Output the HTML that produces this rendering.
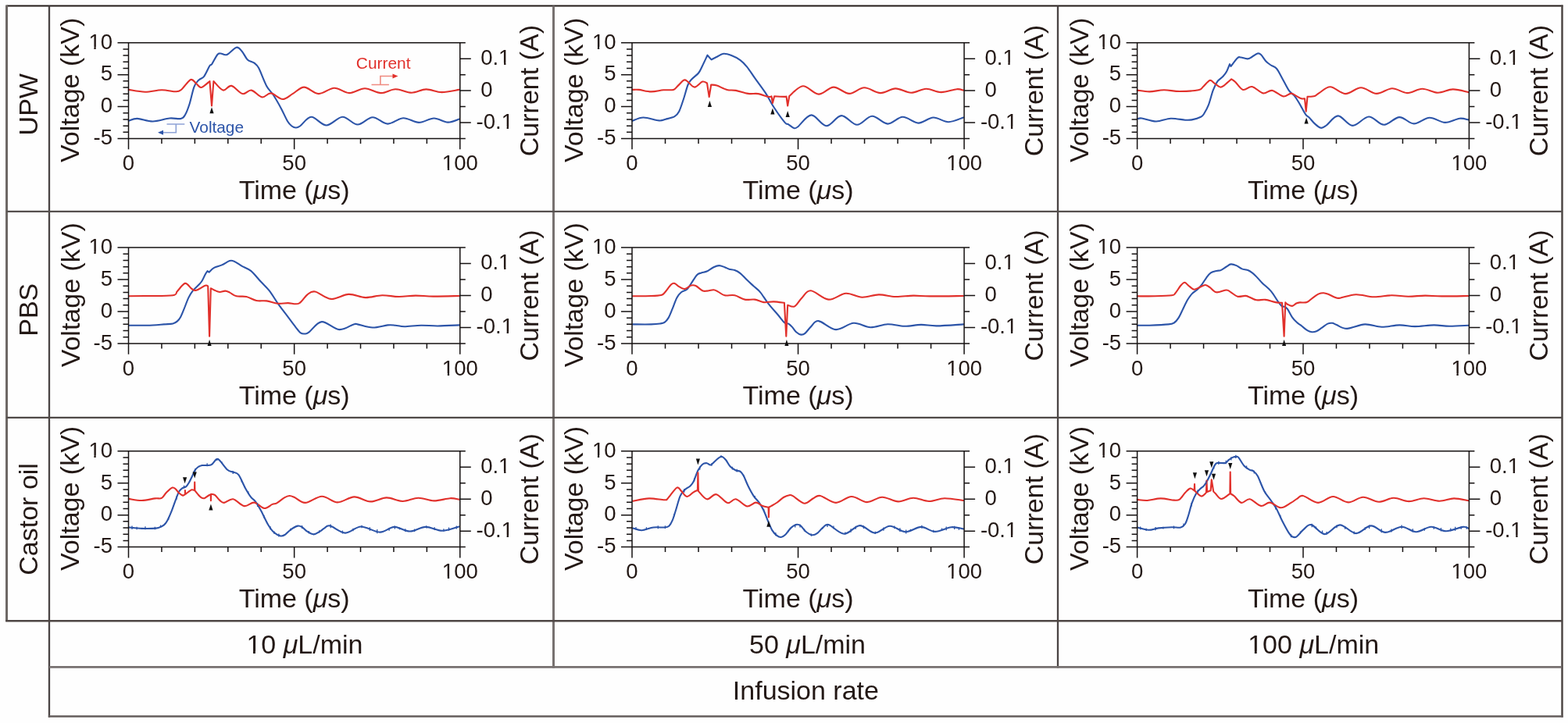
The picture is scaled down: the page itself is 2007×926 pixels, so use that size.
<!DOCTYPE html>
<html><head><meta charset="utf-8"><title>Voltage and current waveforms</title>
<style>html,body{margin:0;padding:0;background:#fefefe;}svg{display:block;}</style>
</head><body>
<svg width="2007" height="926" viewBox="0 0 2007 926" font-family="'Liberation Sans', Arial, Helvetica, sans-serif">
<path d="M8.5 7.5H2000.5" fill="none" stroke="#231b19" stroke-width="2.2"/>
<path d="M8.55 6.5V796" fill="none" stroke="#6c6663" stroke-width="3"/>
<path d="M1999.5 6.5V918.7" fill="none" stroke="#4e4745" stroke-width="2.5"/>
<path d="M63 7.5V918.7" fill="none" stroke="#4a4444" stroke-width="2.3"/>
<path d="M708.5 7.5V855.5" fill="none" stroke="#777170" stroke-width="3"/>
<path d="M1354 7.5V855.5" fill="none" stroke="#4a4444" stroke-width="2.3"/>
<path d="M8.5 270.8H1999" fill="none" stroke="#55504e" stroke-width="2.2"/>
<path d="M8.5 534.8H1999" fill="none" stroke="#4e4846" stroke-width="2.2"/>
<path d="M7.2 795.2H1999" fill="none" stroke="#4e4644" stroke-width="2.4"/>
<path d="M63 854.4H1999" fill="none" stroke="#777170" stroke-width="2.6"/>
<path d="M61.8 917.5H2000.7" fill="none" stroke="#635c5b" stroke-width="2.6"/>
<text x="48" y="133.75" font-size="34" text-anchor="middle" fill="#231815" transform="rotate(-90 48 133.75)">UPW</text>
<text x="48" y="396.7" font-size="34" text-anchor="middle" fill="#231815" transform="rotate(-90 48 396.7)">PBS</text>
<text x="48.5" y="664.9" font-size="34" text-anchor="middle" fill="#231815" transform="rotate(-90 48.5 664.9)">Castor oil</text>
<text x="389.9" y="836.7" font-size="34" text-anchor="middle" fill="#231815">10 <tspan font-style="italic">&#956;</tspan>L/min</text>
<text x="1033.5" y="836.8" font-size="34" text-anchor="middle" fill="#231815">50 <tspan font-style="italic">&#956;</tspan>L/min</text>
<text x="1681.2" y="836.9" font-size="34" text-anchor="middle" fill="#231815">100 <tspan font-style="italic">&#956;</tspan>L/min</text>
<text x="1031.4" y="895.5" font-size="34" text-anchor="middle" fill="#231815">Infusion rate</text>
<path d="M164.7 154.8C166.53 154.32 170.55 151.78 175.7 151.9C180.85 152.02 188.72 155.57 195.6 155.5C202.48 155.43 211.05 152.08 217 151.5C222.95 150.92 227.97 152.75 231.3 152C234.63 151.25 235.1 150.22 237 147C238.9 143.78 240.8 138.65 242.7 132.7C244.6 126.75 246.5 116.28 248.4 111.3C250.3 106.32 251.97 105.05 254.1 102.8C256.23 100.55 258.82 100.9 261.2 97.8C263.58 94.7 266.73 86.82 268.4 84.2C270.07 81.58 269.55 84.47 271.2 82.1C272.85 79.73 276.4 72.27 278.3 70C280.2 67.73 280.57 68.5 282.6 68.5C284.63 68.5 287.17 71.3 290.5 70C293.83 68.7 299.4 61.42 302.6 60.7C305.8 59.98 307.33 63.08 309.7 65.7C312.07 68.32 314.18 73.9 316.8 76.4C319.42 78.9 323.02 78.92 325.4 80.7C327.78 82.48 328.48 82.23 331.1 87.1C333.72 91.97 338.02 104.2 341.1 109.9C344.18 115.6 346.52 116.55 349.6 121.3C352.68 126.05 356.5 132.7 359.6 138.4C362.7 144.1 365.88 151.65 368.2 155.5C370.52 159.35 371.78 160.17 373.5 161.5C375.22 162.83 376.75 163.5 378.5 163.5C380.25 163.5 380.67 163.78 384 161.5C387.33 159.22 392.87 149.97 398.5 149.8C404.13 149.63 411.15 160.5 417.8 160.5C424.45 160.5 431.75 149.97 438.4 149.8C445.05 149.63 451.28 159.43 457.7 159.5C464.12 159.57 470.48 150.35 476.9 150.2C483.32 150.05 489.67 158.43 496.2 158.6C502.73 158.77 509.45 151.48 516.1 151.2C522.75 150.92 529.55 156.85 536.1 156.9C542.65 156.95 549.22 151.55 555.4 151.5C561.58 151.45 567.75 156.45 573.2 156.6C578.65 156.75 585.62 153.1 588.1 152.4" fill="none" stroke="#2c54a8" stroke-width="2.1" stroke-linejoin="round" stroke-linecap="round"/>
<path d="M164.7 114.9C168.2 115.37 178.65 117.63 185.7 117.7C192.75 117.77 200.35 115.37 207 115.3C213.65 115.23 221.32 117.48 225.6 117.3C229.88 117.12 229.62 116.75 232.7 114.2C235.78 111.65 241.02 103.2 244.1 102C247.18 100.8 248.93 105.33 251.2 107C253.47 108.67 254.83 112.5 257.7 112C260.57 111.5 266.62 105.33 268.4 104L271 135.4L273.4 104C275.42 105.93 281.7 114.62 285.5 115.6C289.3 116.58 292.05 109.15 296.2 109.9C300.35 110.65 306.13 119.15 310.4 120.1C314.67 121.05 317.63 114.88 321.8 115.6C325.97 116.32 331.23 123.77 335.4 124.4C339.57 125.03 342.42 118.97 346.8 119.4C351.18 119.83 357 126.92 361.7 127C366.4 127.08 370.4 122.47 375 119.9C379.6 117.33 383.83 111.57 389.3 111.6C394.77 111.63 401.38 119.92 407.8 120.1C414.22 120.28 421.27 112.87 427.8 112.7C434.33 112.53 440.47 119.02 447 119.1C453.53 119.18 460.23 113.2 467 113.2C473.77 113.2 481.07 118.93 487.6 119.1C494.13 119.27 499.67 114.27 506.2 114.2C512.73 114.13 520.27 118.67 526.8 118.7C533.33 118.73 538.98 114.5 545.4 114.4C551.82 114.3 558.3 118.02 565.3 118.1C572.3 118.18 583.72 115.43 587.4 114.9" fill="none" stroke="#e1302b" stroke-width="2.1" stroke-linejoin="round" stroke-linecap="round"/>
<path d="M271 137.2L268.4 145.2L273.6 145.2Z" fill="#111"/>
<path d="M150.5 54.7H595.8M150.5 177.5H595.8M164.5 54.7V191.3M588.8 54.7V191.3M157.5 169.31H164.5M157.5 161.13H164.5M157.5 152.94H164.5M157.5 144.75H164.5M150.5 136.57H164.5M157.5 128.38H164.5M157.5 120.19H164.5M157.5 112.01H164.5M157.5 103.82H164.5M150.5 95.63H164.5M157.5 87.45H164.5M157.5 79.26H164.5M157.5 71.07H164.5M157.5 62.89H164.5M588.8 157.03H602.8M588.8 116.1H602.8M588.8 75.17H602.8M588.8 136.57H595.8M588.8 95.63H595.8M206.93 177.5V184M249.36 177.5V184M291.79 177.5V184M334.22 177.5V184M376.65 177.5V191.3M419.08 177.5V184M461.51 177.5V184M503.94 177.5V184M546.37 177.5V184" fill="none" stroke="#161212" stroke-width="1.5"/>
<text x="144" y="62.5" font-size="27.5" text-anchor="end" fill="#231815">10</text>
<text x="144" y="103.43" font-size="27.5" text-anchor="end" fill="#231815">5</text>
<text x="144" y="144.37" font-size="27.5" text-anchor="end" fill="#231815">0</text>
<text x="144" y="185.3" font-size="27.5" text-anchor="end" fill="#231815">-5</text>
<text x="164.5" y="218.1" font-size="27.5" text-anchor="middle" fill="#231815">0</text>
<text x="376.65" y="218.1" font-size="27.5" text-anchor="middle" fill="#231815">50</text>
<text x="588.8" y="218.1" font-size="27.5" text-anchor="middle" fill="#231815">100</text>
<text x="615.2" y="82.97" font-size="27.5" text-anchor="start" fill="#231815">0.1</text>
<text x="615.2" y="123.9" font-size="27.5" text-anchor="start" fill="#231815">0</text>
<text x="609.6" y="164.83" font-size="27.5" text-anchor="start" fill="#231815">-0.1</text>
<text x="101.5" y="115.35" font-size="34" text-anchor="middle" fill="#231815" transform="rotate(-90 101.5 115.35)">Voltage (kV)</text>
<text x="689.3" y="116.1" font-size="34" text-anchor="middle" fill="#231815" transform="rotate(-90 689.3 116.1)">Current (A)</text>
<text x="376.65" y="255.1" font-size="34" text-anchor="middle" fill="#231815">Time (<tspan font-style="italic">&#956;</tspan>s)</text>
<path d="M213.5 159H236.3M225.3 159V169.8H205" fill="none" stroke="#8ea3d6" stroke-width="1.6"/><path d="M202 169.8L209 166.8L209 172.8Z" fill="#2c54a8"/><text x="242.6" y="169.8" font-size="20.8" text-anchor="start" fill="#2c54a8">Voltage</text><path d="M475.5 108.5H497.9M486.9 108.5V97.5H505" fill="none" stroke="#ef8a80" stroke-width="1.6"/><path d="M509.5 97.5L502.5 94.5L502.5 100.5Z" fill="#e1302b"/><text x="455.8" y="87.8" font-size="20.9" text-anchor="start" fill="#e1302b">Current</text>
<path d="M809.3 154.8C811.67 154.08 817.8 150.57 823.5 150.5C829.2 150.43 838.75 154.03 843.5 154.4C848.25 154.77 848.67 153.58 852 152.7C855.33 151.82 860.63 150.77 863.5 149.1C866.37 147.43 867.3 146.38 869.2 142.7C871.1 139.02 873 132.7 874.9 127C876.8 121.3 878.82 112.78 880.6 108.5C882.38 104.22 883.35 103.8 885.6 101.3C887.85 98.8 891.85 96.35 894.1 93.5C896.35 90.65 897.2 88 899.1 84.2C901 80.4 904.43 72.95 905.5 70.7L910.5 76.4C911.68 75.8 914.98 74.07 917.6 72.8C920.22 71.53 923.1 69.08 926.2 68.8C929.3 68.52 932.63 69.72 936.2 71.1C939.77 72.48 944.28 74.68 947.6 77.1C950.92 79.52 953.02 81.8 956.1 85.6C959.18 89.4 962.05 94.18 966.1 99.9C970.15 105.62 976.37 113.72 980.4 119.9C984.43 126.08 986.27 130.83 990.3 137C994.33 143.17 1001.5 153.22 1004.6 156.9C1007.7 160.58 1007 157.93 1008.9 159.1C1010.8 160.27 1013.98 163.33 1016 163.9C1018.02 164.47 1017.25 165.25 1021 162.5C1024.75 159.75 1032.37 147.62 1038.5 147.4C1044.63 147.18 1051.38 161.08 1057.8 161.2C1064.22 161.32 1070.47 148.33 1077 148.1C1083.53 147.87 1090.47 159.68 1097 159.8C1103.53 159.92 1109.67 149 1116.2 148.8C1122.73 148.6 1129.67 158.43 1136.2 158.6C1142.73 158.77 1148.87 149.97 1155.4 149.8C1161.93 149.63 1168.87 157.48 1175.4 157.6C1181.93 157.72 1188.18 150.73 1194.6 150.5C1201.02 150.27 1207.48 156.2 1213.9 156.2C1220.32 156.2 1229.9 151.45 1233.1 150.5" fill="none" stroke="#2c54a8" stroke-width="2.1" stroke-linejoin="round" stroke-linecap="round"/>
<path d="M809.3 114.9C810.72 114.9 813.77 114.48 817.8 114.9C821.83 115.32 828.27 117.33 833.5 117.4C838.73 117.47 844.45 115.72 849.2 115.3C853.95 114.88 858.92 115.8 862 114.9C865.08 114 865.43 111.97 867.7 109.9C869.97 107.83 873.45 103.33 875.6 102.5C877.75 101.67 878.35 103.38 880.6 104.9C882.85 106.42 886.02 111.65 889.1 111.6C892.18 111.55 896.45 105.45 899.1 104.6C901.75 103.75 904.02 106.18 905 106.5L907.7 124.1L910.2 108.5C911.43 108.68 914.22 108.53 917.6 109.6C920.98 110.67 926.45 113.85 930.5 114.9C934.55 115.95 937.38 115.07 941.9 115.9C946.42 116.73 952.85 119.2 957.6 119.9C962.35 120.6 966.13 119.43 970.4 120.1C974.67 120.77 980.35 123.35 983.2 123.9C986.05 124.45 986.78 123.48 987.5 123.4L988.9 132L991.1 123.4C993.35 123.48 1002.03 123.87 1004.6 123.9C1007.17 123.93 1006.18 123.65 1006.5 123.6L1008.2 135.5L1010.3 123C1013.22 120.88 1021.55 110.7 1027.8 110.3C1034.05 109.9 1041.27 120.38 1047.8 120.6C1054.33 120.82 1060.47 111.72 1067 111.6C1073.53 111.48 1080.47 119.78 1087 119.9C1093.53 120.02 1099.55 112.43 1106.2 112.3C1112.85 112.17 1120.23 118.92 1126.9 119.1C1133.57 119.28 1139.67 113.47 1146.2 113.4C1152.73 113.33 1159.57 118.65 1166.1 118.7C1172.63 118.75 1178.98 113.8 1185.4 113.7C1191.82 113.6 1198.07 118.02 1204.6 118.1C1211.13 118.18 1219.85 114.62 1224.6 114.2C1229.35 113.78 1231.68 115.37 1233.1 115.6" fill="none" stroke="#e1302b" stroke-width="2.1" stroke-linejoin="round" stroke-linecap="round"/>
<path d="M908.4 129.1L905.8 137.1L911 137.1Z" fill="#111"/>
<path d="M988.9 138.4L986.3 146.4L991.5 146.4Z" fill="#111"/>
<path d="M1008.2 142L1005.6 150L1010.8 150Z" fill="#111"/>
<path d="M795 54.7H1241.1M795 177.5H1241.1M809 54.7V191.3M1234.1 54.7V191.3M802 169.31H809M802 161.13H809M802 152.94H809M802 144.75H809M795 136.57H809M802 128.38H809M802 120.19H809M802 112.01H809M802 103.82H809M795 95.63H809M802 87.45H809M802 79.26H809M802 71.07H809M802 62.89H809M1234.1 157.03H1248.1M1234.1 116.1H1248.1M1234.1 75.17H1248.1M1234.1 136.57H1241.1M1234.1 95.63H1241.1M851.51 177.5V184M894.02 177.5V184M936.53 177.5V184M979.04 177.5V184M1021.55 177.5V191.3M1064.06 177.5V184M1106.57 177.5V184M1149.08 177.5V184M1191.59 177.5V184" fill="none" stroke="#161212" stroke-width="1.5"/>
<text x="788.5" y="62.5" font-size="27.5" text-anchor="end" fill="#231815">10</text>
<text x="788.5" y="103.43" font-size="27.5" text-anchor="end" fill="#231815">5</text>
<text x="788.5" y="144.37" font-size="27.5" text-anchor="end" fill="#231815">0</text>
<text x="788.5" y="185.3" font-size="27.5" text-anchor="end" fill="#231815">-5</text>
<text x="809" y="218.1" font-size="27.5" text-anchor="middle" fill="#231815">0</text>
<text x="1021.55" y="218.1" font-size="27.5" text-anchor="middle" fill="#231815">50</text>
<text x="1234.1" y="218.1" font-size="27.5" text-anchor="middle" fill="#231815">100</text>
<text x="1260.5" y="82.97" font-size="27.5" text-anchor="start" fill="#231815">0.1</text>
<text x="1260.5" y="123.9" font-size="27.5" text-anchor="start" fill="#231815">0</text>
<text x="1254.9" y="164.83" font-size="27.5" text-anchor="start" fill="#231815">-0.1</text>
<text x="746" y="115.35" font-size="34" text-anchor="middle" fill="#231815" transform="rotate(-90 746 115.35)">Voltage (kV)</text>
<text x="1334.6" y="116.1" font-size="34" text-anchor="middle" fill="#231815" transform="rotate(-90 1334.6 116.1)">Current (A)</text>
<text x="1021.55" y="255.1" font-size="34" text-anchor="middle" fill="#231815">Time (<tspan font-style="italic">&#956;</tspan>s)</text>
<path d="M1455.7 152.4C1456.65 152.25 1457.37 150.98 1461.4 151.5C1465.43 152.02 1473.72 155.47 1479.9 155.5C1486.08 155.53 1492.32 152 1498.5 151.7C1504.68 151.4 1512.48 153.42 1517 153.7C1521.52 153.98 1522.27 154.05 1525.6 153.4C1528.93 152.75 1534.4 151.12 1537 149.8C1539.6 148.48 1539.53 148.12 1541.2 145.5C1542.87 142.88 1545.08 139.08 1547 134.1C1548.92 129.12 1550.8 120.58 1552.7 115.6C1554.6 110.62 1556.27 107.17 1558.4 104.2C1560.53 101.23 1563.6 99.82 1565.5 97.8C1567.4 95.78 1568.38 94.72 1569.8 92.1C1571.22 89.48 1573.3 83.77 1574 82.1L1575.5 84.9C1576.92 83.12 1581.87 76.1 1584 74.2C1586.13 72.3 1586.17 73.3 1588.3 73.5C1590.43 73.7 1594.42 75.52 1596.8 75.4C1599.18 75.28 1600.45 73.95 1602.6 72.8C1604.75 71.65 1607.8 68.97 1609.7 68.5C1611.6 68.03 1612.22 68.33 1614 70C1615.78 71.67 1618.27 76.25 1620.4 78.5C1622.53 80.75 1624.55 81.95 1626.8 83.5C1629.05 85.05 1631.53 85.07 1633.9 87.8C1636.27 90.53 1638.38 95.27 1641 99.9C1643.62 104.53 1646.98 111.8 1649.6 115.6C1652.22 119.4 1654.63 120.22 1656.7 122.7C1658.77 125.18 1660.37 127.87 1662 130.5C1663.63 133.13 1664.93 135.77 1666.5 138.5C1668.07 141.23 1669.87 144.9 1671.4 146.9C1672.93 148.9 1673.8 148.58 1675.7 150.5C1677.6 152.42 1680.3 156.18 1682.8 158.4C1685.3 160.62 1688.2 163.45 1690.7 163.8C1693.2 164.15 1694.12 163.07 1697.8 160.5C1701.48 157.93 1707.22 148.33 1712.8 148.4C1718.38 148.47 1724.77 160.72 1731.3 160.9C1737.83 161.08 1745.35 149.68 1752 149.5C1758.65 149.32 1764.67 159.7 1771.2 159.8C1777.73 159.9 1784.78 150.33 1791.2 150.1C1797.62 149.87 1803.28 158.28 1809.7 158.4C1816.12 158.52 1823.05 151.05 1829.7 150.8C1836.35 150.55 1843.18 156.75 1849.6 156.9C1856.02 157.05 1863.2 152.28 1868.2 151.7C1873.2 151.12 1877.7 153.12 1879.6 153.4" fill="none" stroke="#2c54a8" stroke-width="2.1" stroke-linejoin="round" stroke-linecap="round"/>
<path d="M1455.7 115.6C1458.32 115.9 1465.7 117.45 1471.4 117.4C1477.1 117.35 1483.48 115.37 1489.9 115.3C1496.32 115.23 1502.53 117 1509.9 117C1517.27 117 1529.12 116.25 1534.1 115.3C1539.08 114.35 1537.42 113.35 1539.8 111.3C1542.18 109.25 1546.02 103.83 1548.4 103C1550.78 102.17 1551.73 104.87 1554.1 106.3C1556.47 107.73 1559.75 111.72 1562.6 111.6C1565.45 111.48 1568.93 107.32 1571.2 105.6C1573.47 103.88 1575.37 102.02 1576.2 101.3C1577.03 101.9 1578.72 102.63 1581.2 104.9C1583.68 107.17 1587.53 113.88 1591.1 114.9C1594.67 115.92 1598.32 110.25 1602.6 111C1606.88 111.75 1612.53 118.58 1616.8 119.4C1621.07 120.22 1623.92 115.23 1628.2 115.9C1632.48 116.57 1638.45 122.78 1642.5 123.4C1646.55 124.02 1649.58 119.6 1652.5 119.6C1655.42 119.6 1657.8 122.28 1660 123.4C1662.2 124.52 1664.03 125.82 1665.7 126.3C1667.37 126.78 1669.28 126.3 1670 126.3L1671.7 142.7L1673.5 123.9C1675.05 123.75 1680.3 123.8 1682.8 123C1685.3 122.2 1685.17 121.05 1688.5 119.1C1691.83 117.15 1697.22 111.13 1702.8 111.3C1708.38 111.47 1715.47 119.93 1722 120.1C1728.53 120.27 1735.33 112.33 1742 112.3C1748.67 112.27 1755.35 119.75 1762 119.9C1768.65 120.05 1775.38 113.33 1781.9 113.2C1788.42 113.07 1794.68 119.02 1801.1 119.1C1807.52 119.18 1813.85 113.77 1820.4 113.7C1826.95 113.63 1833.87 118.58 1840.4 118.7C1846.93 118.82 1853.07 114.5 1859.6 114.4C1866.13 114.3 1876.27 117.48 1879.6 118.1" fill="none" stroke="#e1302b" stroke-width="2.1" stroke-linejoin="round" stroke-linecap="round"/>
<path d="M1672.1 150.5L1669.5 158.5L1674.7 158.5Z" fill="#111"/>
<path d="M1441.6 54.7H1887.4M1441.6 177.5H1887.4M1455.6 54.7V191.3M1880.4 54.7V191.3M1448.6 169.31H1455.6M1448.6 161.13H1455.6M1448.6 152.94H1455.6M1448.6 144.75H1455.6M1441.6 136.57H1455.6M1448.6 128.38H1455.6M1448.6 120.19H1455.6M1448.6 112.01H1455.6M1448.6 103.82H1455.6M1441.6 95.63H1455.6M1448.6 87.45H1455.6M1448.6 79.26H1455.6M1448.6 71.07H1455.6M1448.6 62.89H1455.6M1880.4 157.03H1894.4M1880.4 116.1H1894.4M1880.4 75.17H1894.4M1880.4 136.57H1887.4M1880.4 95.63H1887.4M1498.08 177.5V184M1540.56 177.5V184M1583.04 177.5V184M1625.52 177.5V184M1668 177.5V191.3M1710.48 177.5V184M1752.96 177.5V184M1795.44 177.5V184M1837.92 177.5V184" fill="none" stroke="#161212" stroke-width="1.5"/>
<text x="1435.1" y="62.5" font-size="27.5" text-anchor="end" fill="#231815">10</text>
<text x="1435.1" y="103.43" font-size="27.5" text-anchor="end" fill="#231815">5</text>
<text x="1435.1" y="144.37" font-size="27.5" text-anchor="end" fill="#231815">0</text>
<text x="1435.1" y="185.3" font-size="27.5" text-anchor="end" fill="#231815">-5</text>
<text x="1455.6" y="218.1" font-size="27.5" text-anchor="middle" fill="#231815">0</text>
<text x="1668" y="218.1" font-size="27.5" text-anchor="middle" fill="#231815">50</text>
<text x="1880.4" y="218.1" font-size="27.5" text-anchor="middle" fill="#231815">100</text>
<text x="1906.8" y="82.97" font-size="27.5" text-anchor="start" fill="#231815">0.1</text>
<text x="1906.8" y="123.9" font-size="27.5" text-anchor="start" fill="#231815">0</text>
<text x="1901.2" y="164.83" font-size="27.5" text-anchor="start" fill="#231815">-0.1</text>
<text x="1392.6" y="115.35" font-size="34" text-anchor="middle" fill="#231815" transform="rotate(-90 1392.6 115.35)">Voltage (kV)</text>
<text x="1980.9" y="116.1" font-size="34" text-anchor="middle" fill="#231815" transform="rotate(-90 1980.9 116.1)">Current (A)</text>
<text x="1668" y="255.1" font-size="34" text-anchor="middle" fill="#231815">Time (<tspan font-style="italic">&#956;</tspan>s)</text>
<path d="M165 416.8C168.92 416.78 181.02 416.93 188.5 416.7C195.98 416.47 204.43 415.77 209.9 415.4C215.37 415.03 218.45 415.17 221.3 414.5C224.15 413.83 225.33 412.87 227 411.4C228.67 409.93 229.87 408.32 231.3 405.7C232.73 403.08 233.93 399.75 235.6 395.7C237.27 391.65 239.4 385.32 241.3 381.4C243.2 377.48 244.87 374.93 247 372.2C249.13 369.47 252.2 367.03 254.1 365C256 362.97 256.97 362.25 258.4 360C259.83 357.75 261.52 353.63 262.7 351.5C263.88 349.37 265.03 347.92 265.5 347.2L267.6 348.6C268.68 347.65 271.37 344.43 274.1 342.9C276.83 341.37 280.68 340.87 284 339.4C287.32 337.93 291.38 334.88 294 334.1C296.62 333.32 297.08 333.58 299.7 334.7C302.32 335.82 306.13 338.77 309.7 340.8C313.27 342.83 317.07 343.57 321.1 346.9C325.13 350.23 329.95 356.55 333.9 360.8C337.85 365.05 341.18 367.77 344.8 372.4C348.42 377.03 351.63 383.02 355.6 388.6C359.57 394.18 364.82 400.87 368.6 405.9C372.38 410.93 375.6 415.38 378.3 418.8C381 422.22 382.82 424.95 384.8 426.4C386.78 427.85 388.4 427.68 390.2 427.5C392 427.32 392 427.87 395.6 425.3C399.2 422.73 405.37 412.63 411.8 412.1C418.23 411.57 427.38 421.55 434.2 422.1C441.02 422.65 448.78 416.52 452.7 415.4C456.62 414.28 453.67 414.72 457.7 415.4C461.73 416.08 470.48 419.33 476.9 419.5C483.32 419.67 491.32 416.87 496.2 416.4C501.08 415.93 502.63 416.4 506.2 416.7C509.77 417 512.13 418.2 517.6 418.2C523.07 418.2 531.88 416.82 539 416.7C546.12 416.58 552.12 417.55 560.3 417.5C568.48 417.45 583.47 416.58 588.1 416.4" fill="none" stroke="#2c54a8" stroke-width="2.1" stroke-linejoin="round" stroke-linecap="round"/>
<path d="M165 379.3C168.92 379.25 179.12 379.18 188.5 379C197.88 378.82 214.88 379.22 221.3 378.2C227.72 377.18 224.38 375.45 227 372.9C229.62 370.35 233.92 363.38 237 362.9C240.08 362.42 243.13 368.53 245.5 370C247.87 371.47 248.33 372.4 251.2 371.7C254.07 371 260.2 366.67 262.7 365.8C265.2 364.93 265.62 366.38 266.2 366.5L268.1 430.6L269.8 369.3C270.52 369.67 272.2 370.72 274.1 371.5C276 372.28 278.83 373.82 281.2 374C283.57 374.18 286.17 372.5 288.3 372.6C290.43 372.7 291.62 373.48 294 374.6C296.38 375.72 299.03 378.4 302.6 379.3C306.17 380.2 311.13 379.05 315.4 380C319.67 380.95 323.92 384.1 328.2 385C332.48 385.9 336.53 384.77 341.1 385.4C345.67 386.03 351.02 388.35 355.6 388.8C360.18 389.25 364.1 388.13 368.6 388.1C373.1 388.07 378.47 390.4 382.6 388.6C386.73 386.8 389.97 379.82 393.4 377.3C396.83 374.78 398.18 372.57 403.2 373.5C408.22 374.43 416.32 382.33 423.5 382.9C430.68 383.47 438.93 377.2 446.3 376.9C453.67 376.6 460.57 380.88 467.7 381.1C474.83 381.32 481.98 378.38 489.1 378.2C496.22 378.02 503.28 379.93 510.4 380C517.52 380.07 524.43 378.67 531.8 378.6C539.17 378.53 545.22 379.53 554.6 379.6C563.98 379.67 582.52 379.1 588.1 379" fill="none" stroke="#e1302b" stroke-width="2.1" stroke-linejoin="round" stroke-linecap="round"/>
<path d="M268.1 435L265.5 443L270.7 443Z" fill="#111"/>
<path d="M150.5 317.1H595.8M150.5 439.9H595.8M164.5 317.1V453.7M588.8 317.1V453.7M157.5 431.71H164.5M157.5 423.53H164.5M157.5 415.34H164.5M157.5 407.15H164.5M150.5 398.97H164.5M157.5 390.78H164.5M157.5 382.59H164.5M157.5 374.41H164.5M157.5 366.22H164.5M150.5 358.03H164.5M157.5 349.85H164.5M157.5 341.66H164.5M157.5 333.47H164.5M157.5 325.29H164.5M588.8 419.43H602.8M588.8 378.5H602.8M588.8 337.57H602.8M588.8 398.97H595.8M588.8 358.03H595.8M206.93 439.9V446.4M249.36 439.9V446.4M291.79 439.9V446.4M334.22 439.9V446.4M376.65 439.9V453.7M419.08 439.9V446.4M461.51 439.9V446.4M503.94 439.9V446.4M546.37 439.9V446.4" fill="none" stroke="#161212" stroke-width="1.5"/>
<text x="144" y="324.9" font-size="27.5" text-anchor="end" fill="#231815">10</text>
<text x="144" y="365.83" font-size="27.5" text-anchor="end" fill="#231815">5</text>
<text x="144" y="406.77" font-size="27.5" text-anchor="end" fill="#231815">0</text>
<text x="144" y="447.7" font-size="27.5" text-anchor="end" fill="#231815">-5</text>
<text x="164.5" y="480.5" font-size="27.5" text-anchor="middle" fill="#231815">0</text>
<text x="376.65" y="480.5" font-size="27.5" text-anchor="middle" fill="#231815">50</text>
<text x="588.8" y="480.5" font-size="27.5" text-anchor="middle" fill="#231815">100</text>
<text x="615.2" y="345.37" font-size="27.5" text-anchor="start" fill="#231815">0.1</text>
<text x="615.2" y="386.3" font-size="27.5" text-anchor="start" fill="#231815">0</text>
<text x="609.6" y="427.23" font-size="27.5" text-anchor="start" fill="#231815">-0.1</text>
<text x="101.5" y="377.75" font-size="34" text-anchor="middle" fill="#231815" transform="rotate(-90 101.5 377.75)">Voltage (kV)</text>
<text x="689.3" y="378.5" font-size="34" text-anchor="middle" fill="#231815" transform="rotate(-90 689.3 378.5)">Current (A)</text>
<text x="376.65" y="517.5" font-size="34" text-anchor="middle" fill="#231815">Time (<tspan font-style="italic">&#956;</tspan>s)</text>
<path d="M810 415.4C813.92 415.4 827.68 415.55 833.5 415.4C839.32 415.25 842.05 414.93 844.9 414.5C847.75 414.07 848.82 414.03 850.6 412.8C852.38 411.57 853.93 409.95 855.6 407.1C857.27 404.25 858.82 399.98 860.6 395.7C862.38 391.42 864.4 384.97 866.3 381.4C868.2 377.83 869.87 376.08 872 374.3C874.13 372.52 876.97 372.6 879.1 370.7C881.23 368.8 882.65 365.98 884.8 362.9C886.95 359.82 889.85 354.45 892 352.2C894.15 349.95 895.57 350.18 897.7 349.4C899.83 348.62 902.18 348.7 904.8 347.5C907.42 346.3 910.78 343.43 913.4 342.2C916.02 340.97 918.13 340.1 920.5 340.1C922.87 340.1 925.47 341.43 927.6 342.2C929.73 342.97 931.17 344.05 933.3 344.7C935.43 345.35 938.02 345.2 940.4 346.1C942.78 347 944.98 348.02 947.6 350.1C950.22 352.18 953.25 355.87 956.1 358.6C958.95 361.33 961.85 363.88 964.7 366.5C967.55 369.12 970.12 370.62 973.2 374.3C976.28 377.98 979.4 383.73 983.2 388.6C987 393.47 992.53 399.42 996 403.5C999.47 407.58 1001.78 411.25 1004 413.1C1006.22 414.95 1007.67 413.68 1009.3 414.6C1010.93 415.52 1012.17 416.83 1013.8 418.6C1015.43 420.37 1017.2 423.53 1019.1 425.2C1021 426.87 1023.3 428.32 1025.2 428.6C1027.1 428.88 1028.37 428.6 1030.5 426.9C1032.63 425.2 1035.12 421.03 1038 418.4C1040.88 415.77 1042.48 410.48 1047.8 411.1C1053.12 411.72 1062.42 421.65 1069.9 422.1C1077.38 422.55 1085.33 414.28 1092.7 413.8C1100.07 413.32 1106.85 418.97 1114.1 419.2C1121.35 419.43 1128.95 415.43 1136.2 415.2C1143.45 414.97 1150.47 417.68 1157.6 417.8C1164.73 417.92 1172.12 415.97 1179 415.9C1185.88 415.83 1189.88 417.48 1198.9 417.4C1207.92 417.32 1227.4 415.73 1233.1 415.4" fill="none" stroke="#2c54a8" stroke-width="2.1" stroke-linejoin="round" stroke-linecap="round"/>
<path d="M810 379.3C813.92 379.25 827.45 379.23 833.5 379C839.55 378.77 843.45 378.57 846.3 377.9C849.15 377.23 848.45 377.27 850.6 375C852.75 372.73 857.05 366.32 859.2 364.3C861.35 362.28 861.83 362.42 863.5 362.9C865.17 363.38 867.07 366.02 869.2 367.2C871.33 368.38 873.7 370.28 876.3 370C878.9 369.72 882.43 366.17 884.8 365.5C887.17 364.83 888.12 364.88 890.5 366C892.88 367.12 896.72 371.1 899.1 372.2C901.48 373.3 902.42 372.77 904.8 372.6C907.18 372.43 911.02 371.03 913.4 371.2C915.78 371.37 916.73 372.42 919.1 373.6C921.47 374.78 924.05 377.52 927.6 378.3C931.15 379.08 936.12 377.42 940.4 378.3C944.68 379.18 949.02 382.72 953.3 383.6C957.58 384.48 962.07 383.02 966.1 383.6C970.13 384.18 973.47 386.63 977.5 387.1C981.53 387.57 985.9 386.27 990.3 386.4C994.7 386.53 1001.63 387.65 1003.9 387.9L1006.3 430.6L1008.2 390.7C1009.68 390.98 1014.07 393.95 1017.1 392.4C1020.13 390.85 1022.95 384.77 1026.4 381.4C1029.85 378.03 1032.1 371.83 1037.8 372.2C1043.5 372.57 1053.12 383.02 1060.6 383.6C1068.08 384.18 1075.57 376.18 1082.7 375.7C1089.83 375.22 1096.38 380.42 1103.4 380.7C1110.42 380.98 1117.67 377.52 1124.8 377.4C1131.93 377.28 1138.83 379.8 1146.2 380C1153.57 380.2 1161.63 378.7 1169 378.6C1176.37 378.5 1179.72 379.33 1190.4 379.4C1201.08 379.47 1225.98 379.07 1233.1 379" fill="none" stroke="#e1302b" stroke-width="2.1" stroke-linejoin="round" stroke-linecap="round"/>
<path d="M1006.9 435L1004.3 443L1009.5 443Z" fill="#111"/>
<path d="M795 317.1H1241.1M795 439.9H1241.1M809 317.1V453.7M1234.1 317.1V453.7M802 431.71H809M802 423.53H809M802 415.34H809M802 407.15H809M795 398.97H809M802 390.78H809M802 382.59H809M802 374.41H809M802 366.22H809M795 358.03H809M802 349.85H809M802 341.66H809M802 333.47H809M802 325.29H809M1234.1 419.43H1248.1M1234.1 378.5H1248.1M1234.1 337.57H1248.1M1234.1 398.97H1241.1M1234.1 358.03H1241.1M851.51 439.9V446.4M894.02 439.9V446.4M936.53 439.9V446.4M979.04 439.9V446.4M1021.55 439.9V453.7M1064.06 439.9V446.4M1106.57 439.9V446.4M1149.08 439.9V446.4M1191.59 439.9V446.4" fill="none" stroke="#161212" stroke-width="1.5"/>
<text x="788.5" y="324.9" font-size="27.5" text-anchor="end" fill="#231815">10</text>
<text x="788.5" y="365.83" font-size="27.5" text-anchor="end" fill="#231815">5</text>
<text x="788.5" y="406.77" font-size="27.5" text-anchor="end" fill="#231815">0</text>
<text x="788.5" y="447.7" font-size="27.5" text-anchor="end" fill="#231815">-5</text>
<text x="809" y="480.5" font-size="27.5" text-anchor="middle" fill="#231815">0</text>
<text x="1021.55" y="480.5" font-size="27.5" text-anchor="middle" fill="#231815">50</text>
<text x="1234.1" y="480.5" font-size="27.5" text-anchor="middle" fill="#231815">100</text>
<text x="1260.5" y="345.37" font-size="27.5" text-anchor="start" fill="#231815">0.1</text>
<text x="1260.5" y="386.3" font-size="27.5" text-anchor="start" fill="#231815">0</text>
<text x="1254.9" y="427.23" font-size="27.5" text-anchor="start" fill="#231815">-0.1</text>
<text x="746" y="377.75" font-size="34" text-anchor="middle" fill="#231815" transform="rotate(-90 746 377.75)">Voltage (kV)</text>
<text x="1334.6" y="378.5" font-size="34" text-anchor="middle" fill="#231815" transform="rotate(-90 1334.6 378.5)">Current (A)</text>
<text x="1021.55" y="517.5" font-size="34" text-anchor="middle" fill="#231815">Time (<tspan font-style="italic">&#956;</tspan>s)</text>
<path d="M1455.7 416.8C1458.32 416.78 1464.75 416.93 1471.4 416.7C1478.05 416.47 1490.37 415.93 1495.6 415.4C1500.83 414.87 1500.65 414.88 1502.8 413.5C1504.95 412.12 1506.6 410.07 1508.5 407.1C1510.4 404.13 1512.3 399.5 1514.2 395.7C1516.1 391.9 1518 387.52 1519.9 384.3C1521.8 381.08 1523.47 378.67 1525.6 376.4C1527.73 374.13 1530.57 372.72 1532.7 370.7C1534.83 368.68 1536.5 366.78 1538.4 364.3C1540.3 361.82 1542.2 358.28 1544.1 355.8C1546 353.32 1547.67 350.88 1549.8 349.4C1551.93 347.92 1554.77 347.45 1556.9 346.9C1559.03 346.35 1560.45 347 1562.6 346.1C1564.75 345.2 1567.65 342.78 1569.8 341.5C1571.95 340.22 1573.37 338.63 1575.5 338.4C1577.63 338.17 1580.23 339.1 1582.6 340.1C1584.97 341.1 1587.08 343.33 1589.7 344.4C1592.32 345.47 1595.45 345.08 1598.3 346.5C1601.15 347.92 1603.95 350.28 1606.8 352.9C1609.65 355.52 1612.07 358.87 1615.4 362.2C1618.73 365.53 1623.52 369.08 1626.8 372.9C1630.08 376.72 1632.83 381.93 1635.1 385.1C1637.37 388.27 1638.88 390.6 1640.4 391.9C1641.92 393.2 1642.93 392.23 1644.2 392.9C1645.47 393.57 1646.37 393.67 1648 395.9C1649.63 398.13 1651.98 403.43 1654 406.3C1656.02 409.17 1658.2 411.33 1660.1 413.1C1662 414.87 1663.27 415.27 1665.4 416.9C1667.53 418.53 1670.63 421.52 1672.9 422.9C1675.17 424.28 1676.98 424.97 1679 425.2C1681.02 425.43 1682.87 425.18 1685 424.3C1687.13 423.42 1689.4 421.52 1691.8 419.9C1694.2 418.28 1697.13 415.62 1699.4 414.6C1701.67 413.58 1703.52 413.55 1705.4 413.8C1707.28 414.05 1707.57 414.92 1710.7 416.1C1713.83 417.28 1718.15 421.02 1724.2 420.9C1730.25 420.78 1739.63 415.75 1747 415.4C1754.37 415.05 1761.03 418.63 1768.4 418.8C1775.77 418.97 1784.08 416.52 1791.2 416.4C1798.32 416.28 1803.73 418.1 1811.1 418.1C1818.47 418.1 1828.03 416.45 1835.4 416.4C1842.77 416.35 1847.93 417.75 1855.3 417.8C1862.67 417.85 1875.55 416.88 1879.6 416.7" fill="none" stroke="#2c54a8" stroke-width="2.1" stroke-linejoin="round" stroke-linecap="round"/>
<path d="M1455.7 379.3C1459.5 379.3 1471.13 379.47 1478.5 379.3C1485.87 379.13 1495.62 378.9 1499.9 378.3C1504.18 377.7 1502.3 377.78 1504.2 375.7C1506.1 373.62 1509.28 368.12 1511.3 365.8C1513.32 363.48 1514.63 361.8 1516.3 361.8C1517.97 361.8 1519.28 364.32 1521.3 365.8C1523.32 367.28 1526.03 370.35 1528.4 370.7C1530.77 371.05 1533.12 368.85 1535.5 367.9C1537.88 366.95 1540.55 365 1542.7 365C1544.85 365 1546.03 366.35 1548.4 367.9C1550.77 369.45 1553.33 373.7 1556.9 374.3C1560.47 374.9 1566.7 371.5 1569.8 371.5C1572.9 371.5 1573.13 372.93 1575.5 374.3C1577.87 375.67 1580.92 378.93 1584 379.7C1587.08 380.47 1591.38 378.73 1594 378.9C1596.62 379.07 1597.32 379.8 1599.7 380.7C1602.08 381.6 1604.97 383.77 1608.3 384.3C1611.63 384.83 1615.67 383.43 1619.7 383.9C1623.73 384.37 1628.95 386.43 1632.5 387.1C1636.05 387.77 1639.58 387.77 1641 387.9L1643.6 430.6L1645.3 387.4C1645.75 387.78 1646.55 388.95 1648 389.7C1649.45 390.45 1652.12 392.1 1654 391.9C1655.88 391.7 1657.67 389.25 1659.3 388.5C1660.93 387.75 1661.53 387.65 1663.8 387.4C1666.07 387.15 1670.12 388.02 1672.9 387C1675.68 385.98 1677.98 383.07 1680.5 381.3C1683.02 379.53 1685.73 377.4 1688 376.4C1690.27 375.4 1692.08 375.23 1694.1 375.3C1696.12 375.37 1697.58 375.85 1700.1 376.8C1702.62 377.75 1706.68 380.18 1709.2 381C1711.72 381.82 1710.8 382.33 1715.2 381.7C1719.6 381.07 1728.4 377.43 1735.6 377.2C1742.8 376.97 1750.8 380.12 1758.4 380.3C1766 380.48 1773.83 378.4 1781.2 378.3C1788.57 378.2 1795.47 379.65 1802.6 379.7C1809.73 379.75 1816.88 378.65 1824 378.6C1831.12 378.55 1836.03 379.33 1845.3 379.4C1854.57 379.47 1873.88 379.07 1879.6 379" fill="none" stroke="#e1302b" stroke-width="2.1" stroke-linejoin="round" stroke-linecap="round"/>
<path d="M1643.6 435L1641 443L1646.2 443Z" fill="#111"/>
<path d="M1441.6 317.1H1887.4M1441.6 439.9H1887.4M1455.6 317.1V453.7M1880.4 317.1V453.7M1448.6 431.71H1455.6M1448.6 423.53H1455.6M1448.6 415.34H1455.6M1448.6 407.15H1455.6M1441.6 398.97H1455.6M1448.6 390.78H1455.6M1448.6 382.59H1455.6M1448.6 374.41H1455.6M1448.6 366.22H1455.6M1441.6 358.03H1455.6M1448.6 349.85H1455.6M1448.6 341.66H1455.6M1448.6 333.47H1455.6M1448.6 325.29H1455.6M1880.4 419.43H1894.4M1880.4 378.5H1894.4M1880.4 337.57H1894.4M1880.4 398.97H1887.4M1880.4 358.03H1887.4M1498.08 439.9V446.4M1540.56 439.9V446.4M1583.04 439.9V446.4M1625.52 439.9V446.4M1668 439.9V453.7M1710.48 439.9V446.4M1752.96 439.9V446.4M1795.44 439.9V446.4M1837.92 439.9V446.4" fill="none" stroke="#161212" stroke-width="1.5"/>
<text x="1435.1" y="324.9" font-size="27.5" text-anchor="end" fill="#231815">10</text>
<text x="1435.1" y="365.83" font-size="27.5" text-anchor="end" fill="#231815">5</text>
<text x="1435.1" y="406.77" font-size="27.5" text-anchor="end" fill="#231815">0</text>
<text x="1435.1" y="447.7" font-size="27.5" text-anchor="end" fill="#231815">-5</text>
<text x="1455.6" y="480.5" font-size="27.5" text-anchor="middle" fill="#231815">0</text>
<text x="1668" y="480.5" font-size="27.5" text-anchor="middle" fill="#231815">50</text>
<text x="1880.4" y="480.5" font-size="27.5" text-anchor="middle" fill="#231815">100</text>
<text x="1906.8" y="345.37" font-size="27.5" text-anchor="start" fill="#231815">0.1</text>
<text x="1906.8" y="386.3" font-size="27.5" text-anchor="start" fill="#231815">0</text>
<text x="1901.2" y="427.23" font-size="27.5" text-anchor="start" fill="#231815">-0.1</text>
<text x="1392.6" y="377.75" font-size="34" text-anchor="middle" fill="#231815" transform="rotate(-90 1392.6 377.75)">Voltage (kV)</text>
<text x="1980.9" y="378.5" font-size="34" text-anchor="middle" fill="#231815" transform="rotate(-90 1980.9 378.5)">Current (A)</text>
<text x="1668" y="517.5" font-size="34" text-anchor="middle" fill="#231815">Time (<tspan font-style="italic">&#956;</tspan>s)</text>
<path d="M165 675.5C167.73 675.73 176.53 676.67 181.4 676.9C186.27 677.13 190.63 677.07 194.2 676.9C197.77 676.73 200.18 676.65 202.8 675.9C205.42 675.15 208 673.93 209.9 672.4C211.8 670.87 212.53 669.8 214.2 666.7C215.87 663.6 218.1 658.27 219.9 653.8C221.7 649.33 223.45 643.97 225 639.9C226.55 635.83 227.8 631.85 229.2 629.4C230.6 626.95 231.88 626.25 233.4 625.2C234.92 624.15 236.9 624.27 238.3 623.1C239.7 621.93 240.5 620.43 241.8 618.2C243.1 615.97 244.87 612.28 246.1 609.7C247.33 607.12 248.03 604.57 249.2 602.7C250.37 600.83 251.52 599.6 253.1 598.5C254.68 597.4 256.88 596.52 258.7 596.1C260.52 595.68 262.02 596.15 264 596C265.98 595.85 268.45 596.48 270.6 595.2C272.75 593.92 275.13 589.22 276.9 588.3C278.67 587.38 278.82 587.45 281.2 589.7C283.58 591.95 288.35 599.3 291.2 601.8C294.05 604.3 295.93 603.63 298.3 604.7C300.67 605.77 302.78 604.77 305.4 608.2C308.02 611.63 311.38 620.55 314 625.3C316.62 630.05 318.97 633.9 321.1 636.7C323.23 639.5 324.67 639.25 326.8 642.1C328.93 644.95 331.2 648.85 333.9 653.8C336.6 658.75 340.28 667.18 343 671.8C345.72 676.42 347.52 679.07 350.2 681.5C352.88 683.93 356.67 685.85 359.1 686.4C361.53 686.95 362.63 686.15 364.8 684.8C366.97 683.45 369.4 680.17 372.1 678.3C374.8 676.43 378.57 674.13 381 673.6C383.43 673.07 384.67 673.92 386.7 675.1C388.73 676.28 390.77 679.15 393.2 680.7C395.63 682.25 398.6 684.4 401.3 684.4C404 684.4 407.12 681.98 409.4 680.7C411.68 679.42 412.85 677.92 415 676.7C417.15 675.48 417.8 672.42 422.3 673.4C426.8 674.38 435.38 682.42 442 682.6C448.62 682.78 454.63 674.67 462 674.5C469.37 674.33 479.08 681.53 486.2 681.6C493.32 681.67 498.28 675.08 504.7 674.9C511.12 674.72 518.03 680.5 524.7 680.5C531.37 680.5 537.82 675.02 544.7 674.9C551.58 674.78 558.88 679.87 566 679.8C573.12 679.73 583.83 675.38 587.4 674.5" fill="none" stroke="#2c54a8" stroke-width="2.1" stroke-linejoin="round" stroke-linecap="round"/>
<path d="M165 638.9C167.73 639.25 175.82 641.08 181.4 641C186.98 640.92 194.23 638.92 198.5 638.4C202.77 637.88 204.62 639.13 207 637.9C209.38 636.67 210.53 633.22 212.8 631C215.07 628.78 218.57 625.33 220.6 624.6C222.63 623.87 223.57 625.45 225 626.6C226.43 627.75 227.68 630.17 229.2 631.5C230.72 632.83 232.82 634.32 234.1 634.6C235.38 634.88 236.43 633.43 236.9 633.2L236.9 628L237.1 633C237.77 632.52 239.72 631.05 241.1 630.1C242.48 629.15 244.08 627.65 245.4 627.3C246.72 626.95 248.4 627.88 249 628L249.2 617.5L249.4 628.3C250.02 629.07 251.78 631.43 253.1 632.9C254.42 634.37 255.9 636.22 257.3 637.1C258.7 637.98 259.98 638.55 261.5 638.2C263.02 637.85 265.02 635.83 266.4 635C267.78 634.17 269.23 633.5 269.8 633.2L269.9 641.3L270.1 633C270.3 632.98 270.4 632.68 271.3 632.9C272.2 633.12 273.87 633.02 275.5 634.3C277.13 635.58 279.2 639 281.1 640.6C283 642.2 284.03 644.12 286.9 643.9C289.77 643.68 294.02 638.6 298.3 639.3C302.58 640 308.08 647.38 312.6 648.1C317.12 648.82 321.13 643.12 325.4 643.6C329.67 644.08 334.33 650.62 338.2 651C342.07 651.38 345.92 647.02 348.6 645.9C351.28 644.78 351.73 645.72 354.3 644.3C356.87 642.88 361.3 638.95 364 637.4C366.7 635.85 368.33 635.07 370.5 635C372.67 634.93 373.63 635.52 377 637C380.37 638.48 384.85 644.12 390.7 643.9C396.55 643.68 405.22 635.78 412.1 635.7C418.98 635.62 425.12 643.28 432 643.4C438.88 643.52 446.38 636.57 453.4 636.4C460.42 636.23 467.2 642.23 474.1 642.4C481 642.57 487.92 637.47 494.8 637.4C501.68 637.33 508.63 641.95 515.4 642C522.17 642.05 528.73 637.8 535.4 637.7C542.07 637.6 548.63 641.32 555.4 641.4C562.17 641.48 570.67 638.5 576 638.2C581.33 637.9 585.5 639.37 587.4 639.6" fill="none" stroke="#e1302b" stroke-width="2.1" stroke-linejoin="round" stroke-linecap="round"/>
<path d="M169 673.55V677.98M175.09 674.67V678.22M185.97 674.33V678.28M198.36 674.71V678.3M205.59 672.39V676.04M215.63 662.21V666.03M225.99 635.58V639.63M235.56 621.83V625.51M249.73 600.27V604.46M265.13 593.29V597.31M277.82 587.25V590.02M283.84 591.25V594.12M298.23 603.07V606.97M309.26 614.41V617.49M317.78 629.24V632.89M329.59 644.25V649.12M337.82 659.72V663.44M345.91 674.06V678.29M351.04 680.56V684.07M356.86 683.56V687.48M371.89 676.77V679.97M386.57 672.98V676.97M395.21 679.93V683.23M408.63 679.18V682.53M423.22 671.57V676.24M438.47 679.41V683.4M451.9 676.81V680.24M463.07 672.79V676.25M473.42 675.32V679.71M482.78 678.11V683.18M498.12 676.02V679.69M505.33 673.39V677.51M511.41 675.39V678.35M518.71 677.15V681.04M530.66 677.41V681.1M545.82 673.13V676.59M556.2 675.34V679.05M567.93 677.25V680.85M574.52 675.41V679.63M584.34 673.39V677.55" fill="none" stroke="#2c54a8" stroke-width="1.3"/>
<path d="M236.6 619.2L234 611.2L239.2 611.2Z" fill="#111"/>
<path d="M249.2 612.5L246.6 604.5L251.8 604.5Z" fill="#111"/>
<path d="M269.9 645.5L267.3 653.5L272.5 653.5Z" fill="#111"/>
<path d="M150.5 577.8H595.8M150.5 700.6H595.8M164.5 577.8V714.4M588.8 577.8V714.4M157.5 692.41H164.5M157.5 684.23H164.5M157.5 676.04H164.5M157.5 667.85H164.5M150.5 659.67H164.5M157.5 651.48H164.5M157.5 643.29H164.5M157.5 635.11H164.5M157.5 626.92H164.5M150.5 618.73H164.5M157.5 610.55H164.5M157.5 602.36H164.5M157.5 594.17H164.5M157.5 585.99H164.5M588.8 680.13H602.8M588.8 639.2H602.8M588.8 598.27H602.8M588.8 659.67H595.8M588.8 618.73H595.8M206.93 700.6V707.1M249.36 700.6V707.1M291.79 700.6V707.1M334.22 700.6V707.1M376.65 700.6V714.4M419.08 700.6V707.1M461.51 700.6V707.1M503.94 700.6V707.1M546.37 700.6V707.1" fill="none" stroke="#161212" stroke-width="1.5"/>
<text x="144" y="585.6" font-size="27.5" text-anchor="end" fill="#231815">10</text>
<text x="144" y="626.53" font-size="27.5" text-anchor="end" fill="#231815">5</text>
<text x="144" y="667.47" font-size="27.5" text-anchor="end" fill="#231815">0</text>
<text x="144" y="708.4" font-size="27.5" text-anchor="end" fill="#231815">-5</text>
<text x="164.5" y="741.2" font-size="27.5" text-anchor="middle" fill="#231815">0</text>
<text x="376.65" y="741.2" font-size="27.5" text-anchor="middle" fill="#231815">50</text>
<text x="588.8" y="741.2" font-size="27.5" text-anchor="middle" fill="#231815">100</text>
<text x="615.2" y="606.07" font-size="27.5" text-anchor="start" fill="#231815">0.1</text>
<text x="615.2" y="647" font-size="27.5" text-anchor="start" fill="#231815">0</text>
<text x="609.6" y="687.93" font-size="27.5" text-anchor="start" fill="#231815">-0.1</text>
<text x="101.5" y="638.45" font-size="34" text-anchor="middle" fill="#231815" transform="rotate(-90 101.5 638.45)">Voltage (kV)</text>
<text x="689.3" y="639.2" font-size="34" text-anchor="middle" fill="#231815" transform="rotate(-90 689.3 639.2)">Current (A)</text>
<text x="376.65" y="778.2" font-size="34" text-anchor="middle" fill="#231815">Time (<tspan font-style="italic">&#956;</tspan>s)</text>
<path d="M810 676.4C811.9 676.87 817 679.35 821.4 679.2C825.8 679.05 831.53 676.12 836.4 675.5C841.27 674.88 847.28 675.78 850.6 675.5C853.92 675.22 854.63 675.27 856.3 673.8C857.97 672.33 859.17 670.03 860.6 666.7C862.03 663.37 863.23 659.03 864.9 653.8C866.57 648.57 868.7 639.68 870.6 635.3C872.5 630.92 874.17 629.63 876.3 627.5C878.43 625.37 881.5 624.28 883.4 622.5C885.3 620.72 886.03 620.13 887.7 616.8C889.37 613.47 891.5 606.18 893.4 602.5C895.3 598.82 897.2 596.25 899.1 594.7C901 593.15 903.02 593.08 904.8 593.2C906.58 593.32 907.9 595.98 909.8 595.4C911.7 594.82 913.95 591.48 916.2 589.7C918.45 587.92 921.17 584.82 923.3 584.7C925.43 584.58 927.1 586.87 929 589C930.9 591.13 932.55 595.25 934.7 597.5C936.85 599.75 939.75 601.43 941.9 602.5C944.05 603.57 945.93 602.72 947.6 603.9C949.27 605.08 950.23 606.5 951.9 609.6C953.57 612.7 955.47 618.22 957.6 622.5C959.73 626.78 962.33 631.73 964.7 635.3C967.07 638.87 969.67 640.82 971.8 643.9C973.93 646.98 975.55 649.68 977.5 653.8C979.45 657.92 981.7 664.38 983.5 668.6C985.3 672.82 986.55 676.27 988.3 679.1C990.05 681.93 992.1 684.12 994 685.6C995.9 687.08 997.82 688.13 999.7 688C1001.58 687.87 1003.15 686.82 1005.3 684.8C1007.45 682.78 1010.17 678.07 1012.6 675.9C1015.03 673.73 1017.87 672.22 1019.9 671.8C1021.93 671.38 1022.9 671.92 1024.8 673.4C1026.7 674.88 1028.87 678.73 1031.3 680.7C1033.73 682.67 1036.98 684.78 1039.4 685.2C1041.82 685.62 1043.52 684.75 1045.8 683.2C1048.08 681.65 1050.63 677.75 1053.1 675.9C1055.57 674.05 1056.02 670.78 1060.6 672.1C1065.18 673.42 1073.95 683.63 1080.6 683.8C1087.25 683.97 1093.97 673.3 1100.5 673.1C1107.03 672.9 1113.38 682.48 1119.8 682.6C1126.22 682.72 1132.47 674.03 1139 673.8C1145.53 673.57 1152.33 681.02 1159 681.2C1165.67 681.38 1172.7 674.95 1179 674.9C1185.3 674.85 1190.38 680.85 1196.8 680.9C1203.22 680.95 1211.45 675.78 1217.5 675.2C1223.55 674.62 1230.5 677.03 1233.1 677.4" fill="none" stroke="#2c54a8" stroke-width="2.1" stroke-linejoin="round" stroke-linecap="round"/>
<path d="M810 641.7C813.45 641.15 823.93 638.63 830.7 638.4C837.47 638.17 846.57 640.33 850.6 640.3C854.63 640.27 852.28 640.82 854.9 638.2C857.52 635.58 863.45 626.15 866.3 624.6C869.15 623.05 869.87 627 872 628.9C874.13 630.8 876.48 635.77 879.1 636C881.72 636.23 885.4 631.65 887.7 630.3C890 628.95 892.03 628.3 892.9 627.9L893.4 605.4L893.9 628.9C895.72 630.63 900.97 638.58 904.8 639.3C908.63 640.02 912.5 632.4 916.9 633.2C921.3 634 927.03 643.08 931.2 644.1C935.37 645.12 937.75 638.58 941.9 639.3C946.05 640.02 951.83 647.68 956.1 648.4C960.37 649.12 964.17 643.65 967.5 643.6C970.83 643.55 973.42 647.07 976.1 648.1C978.78 649.13 982.35 649.52 983.6 649.8L983.9 662.4L984.3 649.4C984.83 649.15 985.75 648.88 987.5 647.9C989.25 646.92 992.23 645.32 994.8 643.5C997.37 641.68 1000.33 638.55 1002.9 637C1005.47 635.45 1008.17 634.47 1010.2 634.2C1012.23 633.93 1011.87 633.65 1015.1 635.4C1018.33 637.15 1025.28 644.23 1029.6 644.7C1033.92 645.17 1037.62 639.82 1041 638.2C1044.38 636.58 1045.08 634.05 1049.9 635C1054.72 635.95 1063.23 643.73 1069.9 643.9C1076.57 644.07 1083.25 636.13 1089.9 636C1096.55 635.87 1103.27 642.98 1109.8 643.1C1116.33 643.22 1122.45 636.82 1129.1 636.7C1135.75 636.58 1143.05 642.23 1149.7 642.4C1156.35 642.57 1162.45 637.77 1169 637.7C1175.55 637.63 1182.35 641.92 1189 642C1195.65 642.08 1201.55 638.37 1208.9 638.2C1216.25 638.03 1229.07 640.53 1233.1 641" fill="none" stroke="#e1302b" stroke-width="2.1" stroke-linejoin="round" stroke-linecap="round"/>
<path d="M814 675.07V678.66M827.36 675.32V679.06M842.29 673.2V677.27M851.41 673.15V677.02M862.7 658.34V661.66M875.81 625.98V630.66M888.67 612.24V616.59M895.74 597.4V601.75M910.93 593.17V596.82M922.93 583.19V586.34M937.42 597.83V601.42M943.24 600.85V604.58M951.62 607.79V610.47M966.22 635.1V638.35M977.6 651.77V655.52M992.82 681.88V686.21M1008.69 679.16V681.92M1017.77 671.54V675.52M1024.03 671.46V675.56M1029.49 677.34V680.59M1038.44 683.44V686.8M1052.69 675.03V677.68M1059.03 671.03V675.01M1066.94 673.45V677.14M1081.84 681.62V684.49M1089.06 677.27V681.71M1095.24 673.87V677.87M1105.47 673.25V677.1M1120.38 680.67V684.08M1130.91 675.55V679.7M1144.89 673.51V677.36M1151.92 676.3V680.88M1159.71 678.54V683.39M1165.4 677.82V680.52M1179.92 672.79V676.76M1194.71 678.71V682.05M1205.54 676.49V679.87M1211.19 674.49V679.23M1221.7 673.67V678.11M1227.4 675.06V678.8" fill="none" stroke="#2c54a8" stroke-width="1.3"/>
<path d="M893.4 595.4L890.8 587.4L896 587.4Z" fill="#111"/>
<path d="M983.9 666.7L981.3 674.7L986.5 674.7Z" fill="#111"/>
<path d="M795 577.8H1241.1M795 700.6H1241.1M809 577.8V714.4M1234.1 577.8V714.4M802 692.41H809M802 684.23H809M802 676.04H809M802 667.85H809M795 659.67H809M802 651.48H809M802 643.29H809M802 635.11H809M802 626.92H809M795 618.73H809M802 610.55H809M802 602.36H809M802 594.17H809M802 585.99H809M1234.1 680.13H1248.1M1234.1 639.2H1248.1M1234.1 598.27H1248.1M1234.1 659.67H1241.1M1234.1 618.73H1241.1M851.51 700.6V707.1M894.02 700.6V707.1M936.53 700.6V707.1M979.04 700.6V707.1M1021.55 700.6V714.4M1064.06 700.6V707.1M1106.57 700.6V707.1M1149.08 700.6V707.1M1191.59 700.6V707.1" fill="none" stroke="#161212" stroke-width="1.5"/>
<text x="788.5" y="585.6" font-size="27.5" text-anchor="end" fill="#231815">10</text>
<text x="788.5" y="626.53" font-size="27.5" text-anchor="end" fill="#231815">5</text>
<text x="788.5" y="667.47" font-size="27.5" text-anchor="end" fill="#231815">0</text>
<text x="788.5" y="708.4" font-size="27.5" text-anchor="end" fill="#231815">-5</text>
<text x="809" y="741.2" font-size="27.5" text-anchor="middle" fill="#231815">0</text>
<text x="1021.55" y="741.2" font-size="27.5" text-anchor="middle" fill="#231815">50</text>
<text x="1234.1" y="741.2" font-size="27.5" text-anchor="middle" fill="#231815">100</text>
<text x="1260.5" y="606.07" font-size="27.5" text-anchor="start" fill="#231815">0.1</text>
<text x="1260.5" y="647" font-size="27.5" text-anchor="start" fill="#231815">0</text>
<text x="1254.9" y="687.93" font-size="27.5" text-anchor="start" fill="#231815">-0.1</text>
<text x="746" y="638.45" font-size="34" text-anchor="middle" fill="#231815" transform="rotate(-90 746 638.45)">Voltage (kV)</text>
<text x="1334.6" y="639.2" font-size="34" text-anchor="middle" fill="#231815" transform="rotate(-90 1334.6 639.2)">Current (A)</text>
<text x="1021.55" y="778.2" font-size="34" text-anchor="middle" fill="#231815">Time (<tspan font-style="italic">&#956;</tspan>s)</text>
<path d="M1455.7 675.5C1458.08 676.05 1465.48 678.65 1470 678.8C1474.52 678.95 1477.82 677 1482.8 676.4C1487.78 675.8 1495.15 675.35 1499.9 675.2C1504.65 675.05 1508.45 676.2 1511.3 675.5C1514.15 674.8 1515.33 673.67 1517 671C1518.67 668.33 1519.88 663.9 1521.3 659.5C1522.72 655.1 1523.87 649.18 1525.5 644.6C1527.13 640.02 1529.33 635.05 1531.1 632C1532.87 628.95 1534.45 627.95 1536.1 626.3C1537.75 624.65 1539.48 623.85 1541 622.1C1542.52 620.35 1543.68 618.48 1545.2 615.8C1546.72 613.12 1548.58 609.15 1550.1 606C1551.62 602.85 1553.02 599.07 1554.3 596.9C1555.58 594.73 1555.45 593.65 1557.8 593C1560.15 592.35 1565.93 593.65 1568.4 593C1570.87 592.35 1570.97 590.33 1572.6 589.1C1574.23 587.87 1576.57 586.3 1578.2 585.6C1579.83 584.9 1581.2 584.82 1582.4 584.9C1583.6 584.98 1583.7 584.12 1585.4 586.1C1587.1 588.08 1590.22 594.18 1592.6 596.8C1594.98 599.42 1597.8 600.73 1599.7 601.8C1601.6 602.87 1602.33 601.9 1604 603.2C1605.67 604.5 1607.33 605.32 1609.7 609.6C1612.07 613.88 1615.35 623.67 1618.2 628.9C1621.05 634.13 1624.18 637.2 1626.8 641C1629.42 644.8 1631.53 647.42 1633.9 651.7C1636.27 655.98 1638.38 661.58 1641 666.7C1643.62 671.82 1647.45 678.97 1649.6 682.4C1651.75 685.83 1652.23 686.48 1653.9 687.3C1655.57 688.12 1657.15 688.83 1659.6 687.3C1662.05 685.77 1665.45 680.63 1668.6 678.1C1671.75 675.57 1674 671.1 1678.5 672.1C1683 673.1 1689.53 684.05 1695.6 684.1C1701.67 684.15 1708.23 672.57 1714.9 672.4C1721.57 672.23 1728.95 682.93 1735.6 683.1C1742.25 683.27 1748.52 673.6 1754.8 673.4C1761.08 673.2 1766.77 681.68 1773.3 681.9C1779.83 682.12 1787.45 674.82 1794 674.7C1800.55 674.58 1806.3 681.18 1812.6 681.2C1818.9 681.22 1825.4 674.97 1831.8 674.8C1838.2 674.63 1844.23 680.18 1851 680.2C1857.77 680.22 1867.63 675.48 1872.4 674.9C1877.17 674.32 1878.4 676.4 1879.6 676.7" fill="none" stroke="#2c54a8" stroke-width="2.1" stroke-linejoin="round" stroke-linecap="round"/>
<path d="M1455.7 639.9C1457.83 640.08 1463.52 641.25 1468.5 641C1473.48 640.75 1479.88 638.47 1485.6 638.4C1491.32 638.33 1498.75 640.4 1502.8 640.6C1506.85 640.8 1507.53 641.2 1509.9 639.6C1512.27 638 1514.75 633.33 1517 631C1519.25 628.67 1521.45 626.03 1523.4 625.6C1525.35 625.17 1527.82 627.93 1528.7 628.4L1529 620L1529.3 628.6C1530.67 629.75 1535.07 635.1 1537.5 635.5C1539.93 635.9 1542.83 631.75 1543.9 631L1544.5 615.5L1545.1 630C1545.7 629.73 1547.95 628.67 1548.7 628.4C1549.45 628.13 1549.45 628.4 1549.6 628.4L1550.8 614.4L1553.2 629.5C1553.62 629.92 1554 630.42 1555.7 632C1557.4 633.58 1560.3 638.95 1563.4 639C1566.5 639.05 1572.48 633.42 1574.3 632.3L1574.7 604.6L1575.1 632.3C1575.87 632.8 1577.38 633.37 1579.7 635.3C1582.02 637.23 1585.67 643.23 1589 643.9C1592.33 644.57 1595.53 638.63 1599.7 639.3C1603.87 639.97 1609.72 647.18 1614 647.9C1618.28 648.62 1621.13 643.2 1625.4 643.6C1629.67 644 1635.08 650.25 1639.6 650.3C1644.12 650.35 1649.1 645.8 1652.5 643.9C1655.9 642 1657.45 640.38 1660 638.9C1662.55 637.42 1663.28 634.17 1667.8 635C1672.32 635.83 1680.68 643.73 1687.1 643.9C1693.52 644.07 1699.88 636.08 1706.3 636C1712.72 635.92 1719.18 643.28 1725.6 643.4C1732.02 643.52 1738.27 636.82 1744.8 636.7C1751.33 636.58 1758.27 642.53 1764.8 642.7C1771.33 642.87 1777.58 637.8 1784 637.7C1790.42 637.6 1796.88 642.02 1803.3 642.1C1809.72 642.18 1815.97 638.27 1822.5 638.2C1829.03 638.13 1836.08 641.67 1842.5 641.7C1848.92 641.73 1854.82 638.47 1861 638.4C1867.18 638.33 1876.5 640.82 1879.6 641.3" fill="none" stroke="#e1302b" stroke-width="2.1" stroke-linejoin="round" stroke-linecap="round"/>
<path d="M1459.7 674.49V678.21M1467.13 676.76V680.02M1479.02 675.04V679.3M1488.81 674.71V677.49M1502.48 673.48V677.26M1514.92 670.38V674.07M1525.05 644.08V648.71M1533.14 627.21V632.06M1543.91 615.73V620.25M1553.75 596.48V600.41M1559.86 590.79V595.1M1569.17 589.77V594.34M1575.87 585.27V589.59M1581.81 582.66V586.97M1595.58 596.41V600.22M1605.28 602.76V606.53M1619.5 629.44V632.18M1632.76 647.64V652.51M1638.77 659.63V663.21M1652.48 684.16V688.17M1664.45 680.48V683.76M1679.24 670.87V675.14M1684.54 674.54V677.6M1692.56 679.43V683.64M1698.07 680.88V684.8M1710.99 672.43V676.14M1721.61 674.08V677.66M1733.19 680.51V684.27M1747.28 675.18V678.82M1752.62 672.49V677.04M1768.24 677.2V682.13M1780.98 677.61V681.49M1794.08 672.59V677.05M1808.35 677.22V681.48M1823.3 676.32V679.84M1835.32 674.15V677.74M1844.49 676.09V680.44M1856.78 676.42V680.28M1862.64 674.87V679.68M1870.2 674.01V677.78M1877.16 674.33V677.66" fill="none" stroke="#2c54a8" stroke-width="1.3"/>
<path d="M1529.4 613.3L1526.8 605.3L1532 605.3Z" fill="#111"/>
<path d="M1544.5 610.2L1541.9 602.2L1547.1 602.2Z" fill="#111"/>
<path d="M1550.8 599.3L1548.2 591.3L1553.4 591.3Z" fill="#111"/>
<path d="M1553.5 614.8L1550.9 606.8L1556.1 606.8Z" fill="#111"/>
<path d="M1574.7 601.1L1572.1 593.1L1577.3 593.1Z" fill="#111"/>
<path d="M1441.6 577.8H1887.4M1441.6 700.6H1887.4M1455.6 577.8V714.4M1880.4 577.8V714.4M1448.6 692.41H1455.6M1448.6 684.23H1455.6M1448.6 676.04H1455.6M1448.6 667.85H1455.6M1441.6 659.67H1455.6M1448.6 651.48H1455.6M1448.6 643.29H1455.6M1448.6 635.11H1455.6M1448.6 626.92H1455.6M1441.6 618.73H1455.6M1448.6 610.55H1455.6M1448.6 602.36H1455.6M1448.6 594.17H1455.6M1448.6 585.99H1455.6M1880.4 680.13H1894.4M1880.4 639.2H1894.4M1880.4 598.27H1894.4M1880.4 659.67H1887.4M1880.4 618.73H1887.4M1498.08 700.6V707.1M1540.56 700.6V707.1M1583.04 700.6V707.1M1625.52 700.6V707.1M1668 700.6V714.4M1710.48 700.6V707.1M1752.96 700.6V707.1M1795.44 700.6V707.1M1837.92 700.6V707.1" fill="none" stroke="#161212" stroke-width="1.5"/>
<text x="1435.1" y="585.6" font-size="27.5" text-anchor="end" fill="#231815">10</text>
<text x="1435.1" y="626.53" font-size="27.5" text-anchor="end" fill="#231815">5</text>
<text x="1435.1" y="667.47" font-size="27.5" text-anchor="end" fill="#231815">0</text>
<text x="1435.1" y="708.4" font-size="27.5" text-anchor="end" fill="#231815">-5</text>
<text x="1455.6" y="741.2" font-size="27.5" text-anchor="middle" fill="#231815">0</text>
<text x="1668" y="741.2" font-size="27.5" text-anchor="middle" fill="#231815">50</text>
<text x="1880.4" y="741.2" font-size="27.5" text-anchor="middle" fill="#231815">100</text>
<text x="1906.8" y="606.07" font-size="27.5" text-anchor="start" fill="#231815">0.1</text>
<text x="1906.8" y="647" font-size="27.5" text-anchor="start" fill="#231815">0</text>
<text x="1901.2" y="687.93" font-size="27.5" text-anchor="start" fill="#231815">-0.1</text>
<text x="1392.6" y="638.45" font-size="34" text-anchor="middle" fill="#231815" transform="rotate(-90 1392.6 638.45)">Voltage (kV)</text>
<text x="1980.9" y="639.2" font-size="34" text-anchor="middle" fill="#231815" transform="rotate(-90 1980.9 639.2)">Current (A)</text>
<text x="1668" y="778.2" font-size="34" text-anchor="middle" fill="#231815">Time (<tspan font-style="italic">&#956;</tspan>s)</text>
<g fill="#fefefe"><rect x="317.17" y="833.71" width="6.81" height="3.84"/><rect x="326.88" y="833.71" width="6.54" height="3.84"/><rect x="1599.01" y="833.91" width="6.81" height="3.84"/><rect x="1608.72" y="833.91" width="6.54" height="3.84"/><rect x="114.70" y="60.00" width="5.67" height="3.35"/><rect x="122.70" y="60.00" width="5.46" height="3.35"/><rect x="567.15" y="215.60" width="5.67" height="3.35"/><rect x="575.15" y="215.60" width="5.46" height="3.35"/><rect x="639.42" y="80.47" width="5.67" height="3.35"/><rect x="647.42" y="80.47" width="5.46" height="3.35"/><rect x="642.97" y="162.33" width="5.67" height="3.35"/><rect x="650.97" y="162.33" width="5.46" height="3.35"/><rect x="759.20" y="60.00" width="5.67" height="3.35"/><rect x="767.20" y="60.00" width="5.46" height="3.35"/><rect x="1212.45" y="215.60" width="5.67" height="3.35"/><rect x="1220.45" y="215.60" width="5.46" height="3.35"/><rect x="1284.72" y="80.47" width="5.67" height="3.35"/><rect x="1292.72" y="80.47" width="5.46" height="3.35"/><rect x="1288.27" y="162.33" width="5.67" height="3.35"/><rect x="1296.27" y="162.33" width="5.46" height="3.35"/><rect x="1405.80" y="60.00" width="5.67" height="3.35"/><rect x="1413.80" y="60.00" width="5.46" height="3.35"/><rect x="1858.75" y="215.60" width="5.67" height="3.35"/><rect x="1866.75" y="215.60" width="5.46" height="3.35"/><rect x="1931.02" y="80.47" width="5.67" height="3.35"/><rect x="1939.02" y="80.47" width="5.46" height="3.35"/><rect x="1934.57" y="162.33" width="5.67" height="3.35"/><rect x="1942.57" y="162.33" width="5.46" height="3.35"/><rect x="114.70" y="322.40" width="5.67" height="3.35"/><rect x="122.70" y="322.40" width="5.46" height="3.35"/><rect x="567.15" y="478.00" width="5.67" height="3.35"/><rect x="575.15" y="478.00" width="5.46" height="3.35"/><rect x="639.42" y="342.87" width="5.67" height="3.35"/><rect x="647.42" y="342.87" width="5.46" height="3.35"/><rect x="642.97" y="424.73" width="5.67" height="3.35"/><rect x="650.97" y="424.73" width="5.46" height="3.35"/><rect x="759.20" y="322.40" width="5.67" height="3.35"/><rect x="767.20" y="322.40" width="5.46" height="3.35"/><rect x="1212.45" y="478.00" width="5.67" height="3.35"/><rect x="1220.45" y="478.00" width="5.46" height="3.35"/><rect x="1284.72" y="342.87" width="5.67" height="3.35"/><rect x="1292.72" y="342.87" width="5.46" height="3.35"/><rect x="1288.27" y="424.73" width="5.67" height="3.35"/><rect x="1296.27" y="424.73" width="5.46" height="3.35"/><rect x="1405.80" y="322.40" width="5.67" height="3.35"/><rect x="1413.80" y="322.40" width="5.46" height="3.35"/><rect x="1858.75" y="478.00" width="5.67" height="3.35"/><rect x="1866.75" y="478.00" width="5.46" height="3.35"/><rect x="1931.02" y="342.87" width="5.67" height="3.35"/><rect x="1939.02" y="342.87" width="5.46" height="3.35"/><rect x="1934.57" y="424.73" width="5.67" height="3.35"/><rect x="1942.57" y="424.73" width="5.46" height="3.35"/><rect x="114.70" y="583.10" width="5.67" height="3.35"/><rect x="122.70" y="583.10" width="5.46" height="3.35"/><rect x="567.15" y="738.70" width="5.67" height="3.35"/><rect x="575.15" y="738.70" width="5.46" height="3.35"/><rect x="639.42" y="603.57" width="5.67" height="3.35"/><rect x="647.42" y="603.57" width="5.46" height="3.35"/><rect x="642.97" y="685.43" width="5.67" height="3.35"/><rect x="650.97" y="685.43" width="5.46" height="3.35"/><rect x="759.20" y="583.10" width="5.67" height="3.35"/><rect x="767.20" y="583.10" width="5.46" height="3.35"/><rect x="1212.45" y="738.70" width="5.67" height="3.35"/><rect x="1220.45" y="738.70" width="5.46" height="3.35"/><rect x="1284.72" y="603.57" width="5.67" height="3.35"/><rect x="1292.72" y="603.57" width="5.46" height="3.35"/><rect x="1288.27" y="685.43" width="5.67" height="3.35"/><rect x="1296.27" y="685.43" width="5.46" height="3.35"/><rect x="1405.80" y="583.10" width="5.67" height="3.35"/><rect x="1413.80" y="583.10" width="5.46" height="3.35"/><rect x="1858.75" y="738.70" width="5.67" height="3.35"/><rect x="1866.75" y="738.70" width="5.46" height="3.35"/><rect x="1931.02" y="603.57" width="5.67" height="3.35"/><rect x="1939.02" y="603.57" width="5.46" height="3.35"/><rect x="1934.57" y="685.43" width="5.67" height="3.35"/><rect x="1942.57" y="685.43" width="5.46" height="3.35"/></g>
</svg>
</body></html>
